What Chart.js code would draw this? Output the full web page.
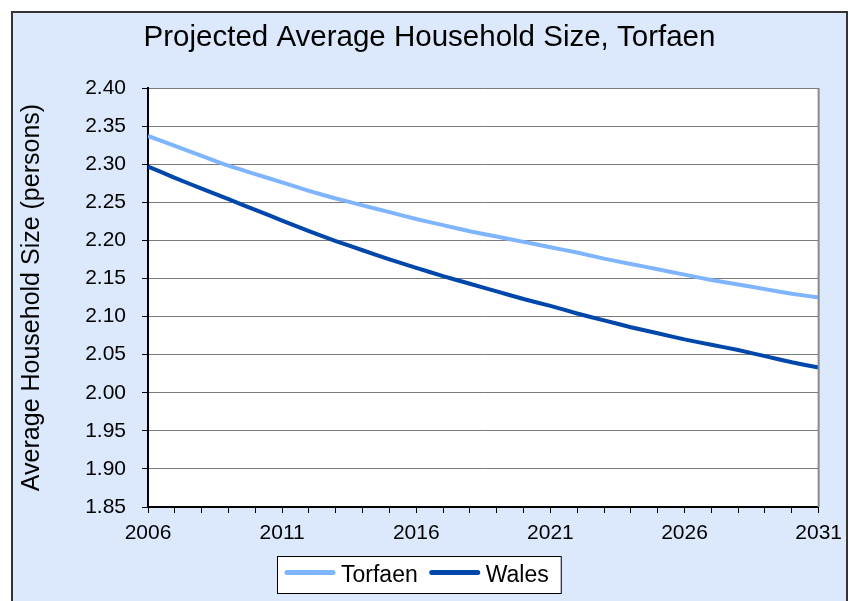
<!DOCTYPE html>
<html>
<head>
<meta charset="utf-8">
<title>Projected Average Household Size, Torfaen</title>
<script src="https://cdn.jsdelivr.net/npm/chart.js@4.4.1/dist/chart.umd.min.js"></script>
<style>
  html, body { margin: 0; padding: 0; background: #ffffff; }
  #wrap { width: 850px; height: 601px; }
</style>
</head>
<body>
<div id="wrap"><canvas id="householdChart" width="850" height="601"></canvas></div>
<script>
// projected average household size (persons), by year
var years = [2006, 2007, 2008, 2009, 2010, 2011, 2012, 2013, 2014, 2015, 2016, 2017, 2018,
             2019, 2020, 2021, 2022, 2023, 2024, 2025, 2026, 2027, 2028, 2029, 2030, 2031];
var torfaen = [2.337, 2.324, 2.311, 2.298, 2.287, 2.276, 2.265, 2.255, 2.246, 2.237, 2.228, 2.220, 2.212,
               2.205, 2.198, 2.191, 2.184, 2.176, 2.169, 2.162, 2.155, 2.148, 2.142, 2.136, 2.130, 2.125];
var wales = [2.297, 2.282, 2.268, 2.254, 2.240, 2.226, 2.212, 2.199, 2.187, 2.175, 2.164, 2.153, 2.143,
             2.133, 2.123, 2.114, 2.104, 2.095, 2.086, 2.078, 2.070, 2.063, 2.056, 2.048, 2.040, 2.033];
var xLabelYears = [2006, 2011, 2016, 2021, 2026, 2031];
var yMin = 1.85, yMax = 2.40, yStep = 0.05;
var chartTitle = 'Projected Average Household Size, Torfaen';

var FONT = "'Liberation Sans', Arial, sans-serif";

function points(vals) {
  return years.map(function (yr, i) { return { x: yr, y: vals[i] }; });
}

// pale blue panel with the title, white plot area
var panelPlugin = {
  id: 'panel',
  beforeDraw: function (chart) {
    var ctx = chart.ctx, a = chart.chartArea;
    ctx.save();
    ctx.fillStyle = '#dce9fd';
    ctx.fillRect(12, 12, 835, 600);
    ctx.strokeStyle = '#333333';
    ctx.lineWidth = 2;
    ctx.strokeRect(12, 12, 835, 600);
    ctx.fillStyle = '#ffffff';
    ctx.fillRect(a.left, a.top, a.right - a.left, a.bottom - a.top);
    ctx.fillStyle = '#000000';
    ctx.font = '29.5px ' + FONT;
    ctx.textAlign = 'center';
    ctx.textBaseline = 'alphabetic';
    ctx.fillText(chartTitle, 429.5, 46);
    ctx.restore();
  },
  afterDraw: function (chart) {
    var ctx = chart.ctx, a = chart.chartArea;
    ctx.save();
    ctx.strokeStyle = '#8a8a8a';
    ctx.lineWidth = 2;
    ctx.beginPath();
    ctx.moveTo(a.right, a.top);
    ctx.lineTo(a.right, a.bottom);
    ctx.stroke();
    ctx.restore();
  }
};

// boxed legend under the x axis
var boxLegend = {
  id: 'boxLegend',
  afterDraw: function (chart) {
    var ctx = chart.ctx;
    var x = 277, y = 556, h = 37, sample = 50;
    ctx.save();
    ctx.font = '23px ' + FONT;
    var w = 8;
    chart.data.datasets.forEach(function (ds) {
      w += sample + 6 + ctx.measureText(ds.label).width + 12;
    });
    ctx.fillStyle = '#ffffff';
    ctx.fillRect(x, y, w, h);
    ctx.strokeStyle = '#000000';
    ctx.lineWidth = 1;
    ctx.strokeRect(x + 0.5, y + 0.5, w, h);
    var cx = x + 8, cy = y + 16.5;
    chart.data.datasets.forEach(function (ds) {
      ctx.strokeStyle = ds.borderColor;
      ctx.lineWidth = 5;
      ctx.lineCap = 'round';
      ctx.beginPath();
      ctx.moveTo(cx + 2, cy);
      ctx.lineTo(cx + sample - 2, cy);
      ctx.stroke();
      cx += sample + 6;
      ctx.fillStyle = '#000000';
      ctx.textBaseline = 'middle';
      ctx.fillText(ds.label, cx, y + h / 2 + 1);
      cx += ctx.measureText(ds.label).width + 12;
    });
    ctx.restore();
  }
};

var ctx = document.getElementById('householdChart').getContext('2d');
var chart = new Chart(ctx, {
  type: 'line',
  data: {
    datasets: [
      { label: 'Torfaen', data: points(torfaen), borderColor: '#7fb4ff', borderWidth: 4,
        pointRadius: 0, tension: 0.2, fill: false },
      { label: 'Wales', data: points(wales), borderColor: '#0047ab', borderWidth: 4,
        pointRadius: 0, tension: 0.2, fill: false }
    ]
  },
  options: {
    responsive: false,
    animation: false,
    devicePixelRatio: 1,
    layout: { padding: { left: 12, top: 88, right: 27, bottom: 34 } },
    plugins: {
      legend: { display: false },
      tooltip: { enabled: false },
      title: { display: false }
    },
    scales: {
      x: {
        type: 'linear',
        min: years[0],
        max: years[years.length - 1],
        afterFit: function (scale) { scale.height = 60; },
        border: { color: '#000000', width: 2 },
        grid: { drawOnChartArea: false, drawTicks: true, tickLength: 6, tickColor: '#000000', tickWidth: 1 },
        ticks: {
          stepSize: 1,
          autoSkip: false,
          maxRotation: 0,
          padding: 8,
          color: '#000000',
          font: { family: FONT, size: 21 },
          callback: function (v) { return xLabelYears.indexOf(v) >= 0 ? String(v) : ''; }
        }
      },
      y: {
        min: yMin,
        max: yMax,
        afterFit: function (scale) { scale.width = 136; },
        border: { color: '#000000', width: 2 },
        grid: { color: '#7a7a7a', lineWidth: 1, drawTicks: true, tickLength: 6, tickColor: '#000000' },
        ticks: {
          stepSize: yStep,
          padding: 16,
          color: '#000000',
          font: { family: FONT, size: 21 },
          callback: function (v) { return v.toFixed(2); }
        },
        title: {
          display: true,
          text: 'Average Household Size (persons)',
          color: '#000000',
          font: { family: FONT, size: 25 },
          padding: { top: 5, bottom: 0 }
        }
      }
    }
  },
  plugins: [panelPlugin, boxLegend]
});
</script>
</body>
</html>
